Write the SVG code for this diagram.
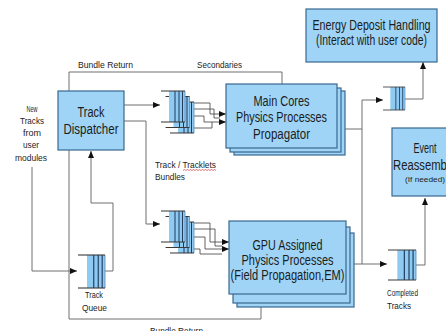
<svg xmlns="http://www.w3.org/2000/svg" xmlns:xlink="http://www.w3.org/1999/xlink" width="446" height="331" viewBox="0 0 446 331">
  <style>
    .box { fill: #9fd4f6; stroke: #3a6891; stroke-width: 1.2; }
    .wire { fill: none; stroke: #6e6e6e; stroke-width: 1; }
    .fan { fill: none; stroke: #3c3c3c; stroke-width: 0.8; }
    .arr { marker-end: url(#head); }
    .t { font-family: "Liberation Sans", Arial, sans-serif; fill: #1c1c1c; }
    .big { font-size: 14px; text-anchor: middle; }
    .lbl { font-size: 9px; }
    .mid { text-anchor: middle; }
    .qf { fill: #8ecaf2; stroke: none; }
    .qe { stroke: #3a3a3a; stroke-width: 1; }
    .qd { stroke: #1f3a5c; stroke-width: 1; }
    .qr { stroke: #5f8fb8; stroke-width: 0.8; }
  </style>
  <defs>
    <marker id="head" markerUnits="userSpaceOnUse" markerWidth="8" markerHeight="7" refX="7" refY="3" orient="auto">
      <path d="M0,0 L7,3 L0,6 z" fill="#111"/>
    </marker>
    <!-- queue icon: open on the left, cells on the right -->
    <g id="queue">
      <rect class="qf" x="8" y="0" width="16" height="30"/>
      <line class="qd" x1="14" y1="0" x2="14" y2="30"/>
      <line class="qd" x1="18" y1="0" x2="18" y2="30"/>
      <line class="qd" x1="21.5" y1="0" x2="21.5" y2="30"/>
      <line class="qr" x1="24" y1="0" x2="24" y2="30"/>
      <line class="qe" x1="0" y1="0" x2="24" y2="0"/>
      <line class="qe" x1="0" y1="30" x2="24" y2="30"/>
    </g>
  </defs>

  <!-- connectors -->
  <g id="connectors">
    <!-- bundle return / secondaries loop over the top -->
    <path class="wire" d="M69,91 V72 H282 V84"/>
    <!-- dispatcher to main-core queues -->
    <path class="wire arr" d="M124,105 H160"/>
    <!-- dispatcher to GPU queues -->
    <path class="wire arr" d="M124,121 H146 V224 H160"/>
    <!-- new tracks from user modules -->
    <path class="wire arr" d="M32,167 V271 H77"/>
    <!-- track queue back to dispatcher -->
    <path class="wire arr" d="M105,271 H113 V203 H91 V151"/>
    <!-- bundle return along the bottom -->
    <path class="wire" d="M69,150 V319 H261 V307"/>
    <!-- main cores output -->
    <path class="wire" d="M345,129 H362"/>
    <path class="wire arr" d="M362,264 V100 H383"/>
    <!-- GPU output to completed tracks -->
    <path class="wire arr" d="M354,264 H387"/>
    <!-- queue to energy deposit handling -->
    <path class="wire arr" d="M405,99 H423 V62"/>
    <!-- completed tracks to event reassembly -->
    <path class="wire arr" d="M416,265 H425 V198"/>

    <!-- bundles fanning into main cores -->
    <path class="fan arr" d="M185,103 H210 V114 H226"/>
    <path class="fan" d="M189.5,109 H214 V118 H220"/>
    <path class="fan arr" d="M194,116 H204 V122 H226"/>
    <path class="fan" d="M194,128 H212 V122"/>
    <!-- bundles fanning into GPU -->
    <path class="fan arr" d="M185,223 H210 V242 H229"/>
    <path class="fan" d="M189.5,229 H215 V246 H222"/>
    <path class="fan arr" d="M194,237 H205 V249 H229"/>
    <path class="fan" d="M194,249 H200 V254 H222"/>
  </g>

  <!-- track dispatcher -->
  <g id="dispatcher">
    <rect class="box" x="58" y="91" width="66" height="59"/>
    <text class="t big" x="91" y="117" textLength="27" lengthAdjust="spacingAndGlyphs">Track</text>
    <text class="t big" x="91" y="134" textLength="55" lengthAdjust="spacingAndGlyphs">Dispatcher</text>
  </g>

  <!-- main-core bundle queues -->
  <g id="main-queues">
    <use xlink:href="#queue" transform="translate(170,102) scale(1,1.033)"/>
    <use xlink:href="#queue" transform="translate(165.5,96.5) scale(1,1.033)"/>
    <use xlink:href="#queue" transform="translate(161,91) scale(1,1.033)"/>
  </g>

  <!-- GPU bundle queues -->
  <g id="gpu-queues">
    <use xlink:href="#queue" transform="translate(170,222) scale(1,1.033)"/>
    <use xlink:href="#queue" transform="translate(165.5,216.5) scale(1,1.033)"/>
    <use xlink:href="#queue" transform="translate(161,211) scale(1,1.033)"/>
  </g>

  <!-- main cores -->
  <g id="main-cores">
    <rect class="box" x="234" y="91" width="111" height="64"/>
    <rect class="box" x="230" y="88" width="111" height="64"/>
    <rect class="box" x="226" y="84" width="111" height="64"/>
    <text class="t big" x="281.5" y="106" textLength="56" lengthAdjust="spacingAndGlyphs">Main Cores</text>
    <text class="t big" x="281.5" y="122" textLength="91" lengthAdjust="spacingAndGlyphs">Physics Processes</text>
    <text class="t big" x="281.5" y="139" textLength="57" lengthAdjust="spacingAndGlyphs">Propagator</text>
  </g>

  <!-- GPU assigned -->
  <g id="gpu">
    <rect class="box" x="237" y="233" width="117" height="74"/>
    <rect class="box" x="233" y="227" width="117" height="76"/>
    <rect class="box" x="229" y="221" width="117" height="73"/>
    <text class="t big" x="287.5" y="250" textLength="70" lengthAdjust="spacingAndGlyphs">GPU Assigned</text>
    <text class="t big" x="287.5" y="265" textLength="92" lengthAdjust="spacingAndGlyphs">Physics Processes</text>
    <text class="t big" x="287.5" y="280" textLength="114" lengthAdjust="spacingAndGlyphs">(Field Propagation,EM)</text>
  </g>

  <!-- energy deposit handling -->
  <g id="energy">
    <rect class="box" x="306" y="9" width="131" height="53"/>
    <text class="t big" x="371.5" y="30" textLength="118" lengthAdjust="spacingAndGlyphs">Energy Deposit Handling</text>
    <text class="t big" x="371.5" y="45" textLength="111" lengthAdjust="spacingAndGlyphs">(Interact with user code)</text>
  </g>

  <!-- event reassembly -->
  <g id="event">
    <rect class="box" x="392" y="128" width="68" height="68"/>
    <text class="t big" x="425" y="153" textLength="23" lengthAdjust="spacingAndGlyphs">Event</text>
    <text class="t" x="393" y="170" font-size="14" textLength="62" lengthAdjust="spacingAndGlyphs">Reassembly</text>
    <text class="t mid" x="425" y="182" font-size="8" textLength="40" lengthAdjust="spacingAndGlyphs">(If needed)</text>
  </g>

  <!-- output queues -->
  <g id="energy-queue">
    <use xlink:href="#queue" transform="translate(383,87) scale(0.917,0.767)"/>
  </g>
  <g id="completed-queue">
    <use xlink:href="#queue" transform="translate(388,250) scale(1.167,1)"/>
    <text class="t lbl" x="387" y="296" textLength="31" lengthAdjust="spacingAndGlyphs">Completed</text>
    <text class="t lbl" x="387" y="309" textLength="24" lengthAdjust="spacingAndGlyphs">Tracks</text>
  </g>
  <g id="track-queue">
    <use xlink:href="#queue" transform="translate(78,255) scale(1.125,1.1)"/>
    <text class="t lbl mid" x="94" y="298" textLength="18" lengthAdjust="spacingAndGlyphs">Track</text>
    <text class="t lbl mid" x="94.5" y="311" textLength="25" lengthAdjust="spacingAndGlyphs">Queue</text>
  </g>

  <!-- free labels -->
  <g id="labels">
    <text class="t lbl mid" x="32" y="112" textLength="11" lengthAdjust="spacingAndGlyphs">New</text>
    <text class="t lbl mid" x="32" y="124" textLength="24" lengthAdjust="spacingAndGlyphs">Tracks</text>
    <text class="t lbl mid" x="32" y="136" textLength="18" lengthAdjust="spacingAndGlyphs">from</text>
    <text class="t lbl mid" x="31" y="148" textLength="16" lengthAdjust="spacingAndGlyphs">user</text>
    <text class="t lbl mid" x="31" y="161" textLength="32" lengthAdjust="spacingAndGlyphs">modules</text>
    <text class="t lbl" x="78" y="68" textLength="55" lengthAdjust="spacingAndGlyphs">Bundle Return</text>
    <text class="t lbl" x="197" y="68" textLength="45" lengthAdjust="spacingAndGlyphs">Secondaries</text>
    <text class="t lbl" x="155" y="168" textLength="61" lengthAdjust="spacingAndGlyphs">Track / Tracklets</text>
    <path d="M183,170.5 l1.5,-1 l1.5,1 l1.5,-1 l1.5,1 l1.5,-1 l1.5,1 l1.5,-1 l1.5,1 l1.5,-1 l1.5,1 l1.5,-1 l1.5,1 l1.5,-1 l1.5,1 l1.5,-1 l1.5,1 l1.5,-1 l1.5,1 l1.5,-1 l1.5,1 l1.5,-1 l1.5,1" fill="none" stroke="#d23a3a" stroke-width="0.7"/>
    <text class="t lbl" x="155" y="180" textLength="30" lengthAdjust="spacingAndGlyphs">Bundles</text>
    <text class="t lbl" x="150" y="334" textLength="53" lengthAdjust="spacingAndGlyphs">Bundle Return</text>
  </g>
</svg>
